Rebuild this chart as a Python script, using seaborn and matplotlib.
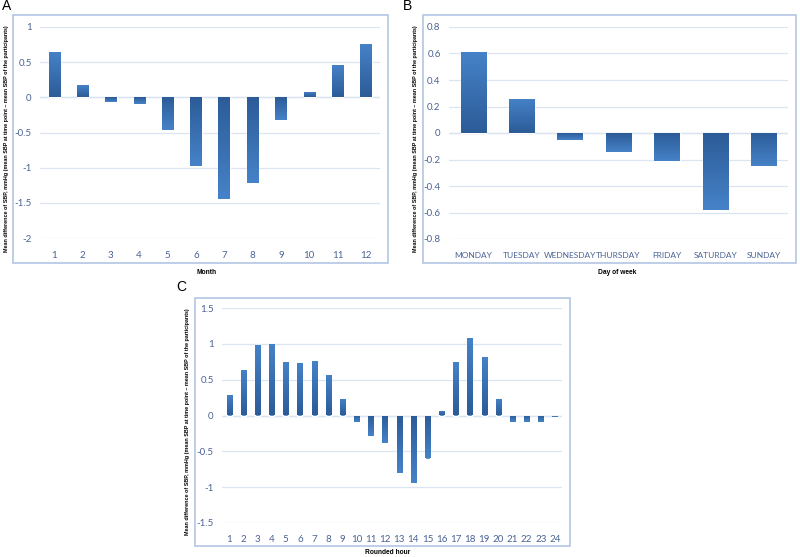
import matplotlib
matplotlib.use("Agg")
import matplotlib.pyplot as plt
import seaborn as sns
import numpy as np
import pandas as pd
from matplotlib.colors import LinearSegmentedColormap
from matplotlib.patches import Rectangle

# data
months = ["1", "2", "3", "4", "5", "6", "7", "8", "9", "10", "11", "12"]
month_vals = [0.65, 0.17, -0.07, -0.09, -0.46, -0.97, -1.44, -1.22, -0.32, 0.08, 0.46, 0.76]

days = ["MONDAY", "TUESDAY", "WEDNESDAY", "THURSDAY", "FRIDAY", "SATURDAY", "SUNDAY"]
day_vals = [0.61, 0.26, -0.05, -0.14, -0.21, -0.58, -0.25]

hours = [str(h) for h in range(1, 25)]
hour_vals = [0.29, 0.63, 0.98, 1.0, 0.75, 0.73, 0.76, 0.57, 0.23, -0.09, -0.28, -0.39,
             -0.80, -0.94, -0.60, 0.06, 0.75, 1.08, 0.82, 0.23, -0.09, -0.09, -0.09, -0.02]

ylabel = "Mean difference of SBP, mmHg (mean SBP at time point \u2013 mean SBP of the participants)"

W, H = 800, 557
sns.set_theme(style="white")
plt.rcParams["font.family"] = ["Liberation Sans", "DejaVu Sans"]

tick_color = "#4a6394"
grid_color = "#dbe5f1"
frame_color = "#b3c6e4"
bar_cmap = LinearSegmentedColormap.from_list("bar", ["#2c5c98", "#4682c8"])

fig = plt.figure(figsize=(W / 100, H / 100), dpi=100)


def px_rect(l, t, r, b):
    return [l / W, 1 - b / H, (r - l) / W, (b - t) / H]


def shade_bars(ax):
    # darker at the zero line, lighter towards the bar end
    grad = np.linspace(0, 1, 64).reshape(-1, 1)
    for bar in ax.patches:
        x0, w, h = bar.get_x(), bar.get_width(), bar.get_height()
        y0 = bar.get_y()
        lo, hi = min(y0, y0 + h), max(y0, y0 + h)
        arr = grad if h >= 0 else grad[::-1]
        im = ax.imshow(arr, cmap=bar_cmap, extent=[x0, x0 + w, lo, hi], origin="lower",
                       aspect="auto", zorder=3, vmin=0, vmax=1)
        im.set_clip_path(bar)


def panel(letter, cats, vals, ax_px, frame_px, ylim, yticks, width, xtitle, xtitle_pos,
          ylab_x, letter_pos, xsize=7):
    ax = fig.add_axes(px_rect(*ax_px))
    df = pd.DataFrame({"cat": cats, "val": vals})
    sns.barplot(data=df, x="cat", y="val", color="#3a70b4", width=width, ax=ax,
                saturation=1, zorder=2)
    shade_bars(ax)
    ax.set_xlim(-0.5, len(cats) - 0.5)
    ax.set_ylim(*ylim)
    ax.set_yticks(yticks)
    ax.set_yticklabels([f"{t:g}" for t in yticks])
    ax.yaxis.grid(True, color=grid_color, lw=0.9)
    ax.axhline(0, color=grid_color, lw=1.0, zorder=1)
    ax.set_axisbelow(True)
    for s in ax.spines.values():
        s.set_visible(False)
    ax.set_xlabel("")
    ax.set_ylabel("")
    ax.tick_params(axis="both", length=0, labelsize=7, colors=tick_color)
    ax.tick_params(axis="x", pad=9, labelsize=xsize)
    ax.tick_params(axis="y", pad=6)
    for lab in ax.get_xticklabels() + ax.get_yticklabels():
        lab.set_family(["Lato", "DejaVu Sans"])
    l, t, r, b = frame_px
    fig.patches.append(Rectangle((l / W, 1 - b / H), (r - l) / W, (b - t) / H,
                                 transform=fig.transFigure, fill=False,
                                 edgecolor=frame_color, lw=1.2))
    fig.text(ylab_x / W, 1 - (t + b) / 2 / H, ylabel, rotation=90, ha="center", va="center",
             fontsize=3.9, fontweight="bold", color="black")
    fig.text(xtitle_pos[0] / W, 1 - xtitle_pos[1] / H, xtitle, ha="center", va="center",
             fontsize=4.8, fontweight="bold", color="black")
    fig.text(letter_pos[0] / W, 1 - letter_pos[1] / H, letter, ha="left", va="center",
             fontsize=10, color="black")
    return ax


panel("A", months, month_vals, (40, 27, 380, 238), (13, 15, 388, 263),
      (-2, 1), [-2, -1.5, -1, -0.5, 0, 0.5, 1], 0.4, "Month", (207, 272), 7, (2, 6))
panel("B", days, day_vals, (449, 27, 788, 239), (423, 15, 796, 263),
      (-0.8, 0.8), [-0.8, -0.6, -0.4, -0.2, 0, 0.2, 0.4, 0.6, 0.8], 0.52,
      "Day of week", (617, 272), 416, (403, 6), xsize=6)
panel("C", hours, hour_vals, (222, 308, 562, 523), (195, 298, 570, 546),
      (-1.5, 1.5), [-1.5, -1, -0.5, 0, 0.5, 1, 1.5], 0.36, "Rounded hour", (388, 553), 187, (176, 287))

fig.savefig("out.png", dpi=100, facecolor="white")
